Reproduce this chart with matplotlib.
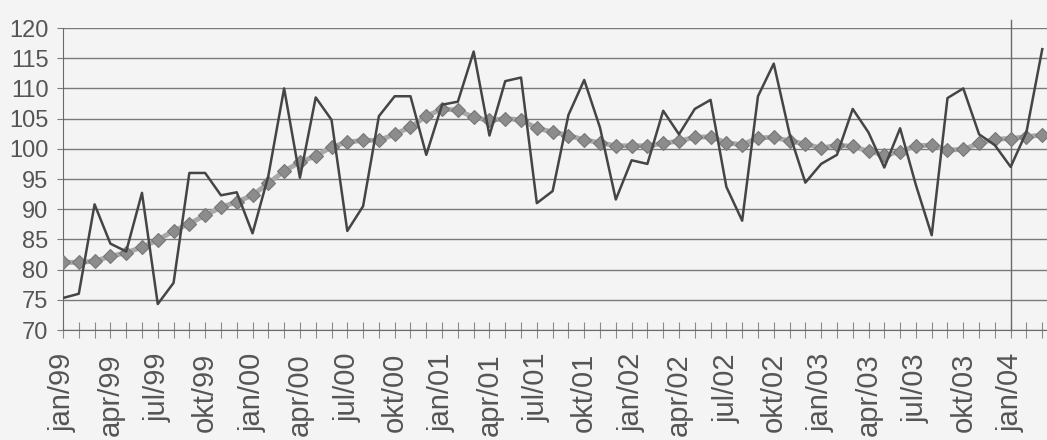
import pandas as pd
import matplotlib.pyplot as plt

# monthly index values, jan/99 .. mar/04
raw = [75.3, 76.0, 90.8, 84.3, 83.0, 92.7, 74.3, 77.8, 96.0, 96.0,
       92.3, 92.8, 86.0, 95.5, 110.0, 95.2, 108.5, 104.8, 86.4, 90.5,
       105.4, 108.7, 108.7, 99.0, 107.3, 107.8, 116.1, 102.2, 111.2, 111.8,
       91.0, 93.0, 105.6, 111.4, 103.5, 91.6, 98.1, 97.5, 106.3, 102.4,
       106.6, 108.1, 93.7, 88.1, 108.7, 114.1, 102.5, 94.4, 97.5, 99.0,
       106.6, 102.7, 96.9, 103.4, 94.0, 85.7, 108.4, 110.0, 102.4, 100.6,
       97.0, 102.8, 116.5]

trend = [81.2, 81.2, 81.4, 82.2, 82.8, 83.7, 84.9, 86.4, 87.6, 89.0,
         90.3, 91.2, 92.3, 94.3, 96.3, 97.8, 98.8, 100.3, 101.1, 101.4,
         101.4, 102.4, 103.6, 105.4, 106.6, 106.4, 105.2, 104.7, 105.0, 104.8,
         103.4, 102.8, 102.2, 101.5, 101.0, 100.5, 100.5, 100.5, 100.9, 101.3,
         101.9, 102.0, 101.0, 100.7, 101.8, 101.9, 101.3, 100.8, 100.1, 100.6,
         100.4, 99.6, 99.0, 99.5, 100.5, 100.6, 99.8, 99.9, 100.9, 101.6,
         101.7, 102.0, 102.3]

month_names = ['jan', 'feb', 'mar', 'apr', 'mai', 'jun',
               'jul', 'aug', 'sep', 'okt', 'nov', 'des']
marker_month = 'jan/04'

dates = pd.date_range('1999-01-01', periods=len(raw), freq='MS')
labels = [f"{month_names[d.month - 1]}/{d.strftime('%y')}" for d in dates]
x = list(range(len(raw)))

bg = '#f4f4f4'
txt = '#555555'
grid = '#7a7a7a'

fig = plt.figure(figsize=(10.47, 4.40), dpi=100, facecolor=bg)
ax = fig.add_axes([63 / 1047, 110 / 440, 984 / 1047, 302 / 440], facecolor=bg)

ax.plot(x, trend, color='#a8a8a8', lw=3.5, marker='D', ms=7.5,
        mfc='#8c8c8c', mec='#777777', mew=0.8, zorder=3)
ax.plot(x, raw, color='#454545', lw=1.8, zorder=4)

ax.axvline(labels.index(marker_month), ymin=0, ymax=1.027, color='#6a6a6a',
           lw=1, clip_on=False, zorder=2)

ax.set_ylim(70, 120)
ax.set_xlim(0, 62.3)
ax.set_yticks(range(70, 121, 5))
ax.yaxis.grid(True, color=grid, lw=1)
ax.set_axisbelow(True)

ax.set_xticks(x)
ax.set_xticklabels([lab if i % 3 == 0 else '' for i, lab in enumerate(labels)],
                   rotation=90)

for s in ['top', 'right']:
    ax.spines[s].set_visible(False)
ax.spines['left'].set_color('#6a6a6a')
ax.spines['bottom'].set_color('#6a6a6a')

ax.tick_params(axis='y', length=4.5, color=grid, pad=6,
               labelsize=17, labelcolor=txt)
ax.tick_params(axis='x', direction='inout', length=11, color='#8a8a8a',
               pad=11, labelsize=21, labelcolor=txt)
for t in ax.get_xticklabels() + ax.get_yticklabels():
    t.set_family(['Liberation Sans', 'DejaVu Sans'])

fig.savefig('out.png', dpi=100, facecolor=bg)
